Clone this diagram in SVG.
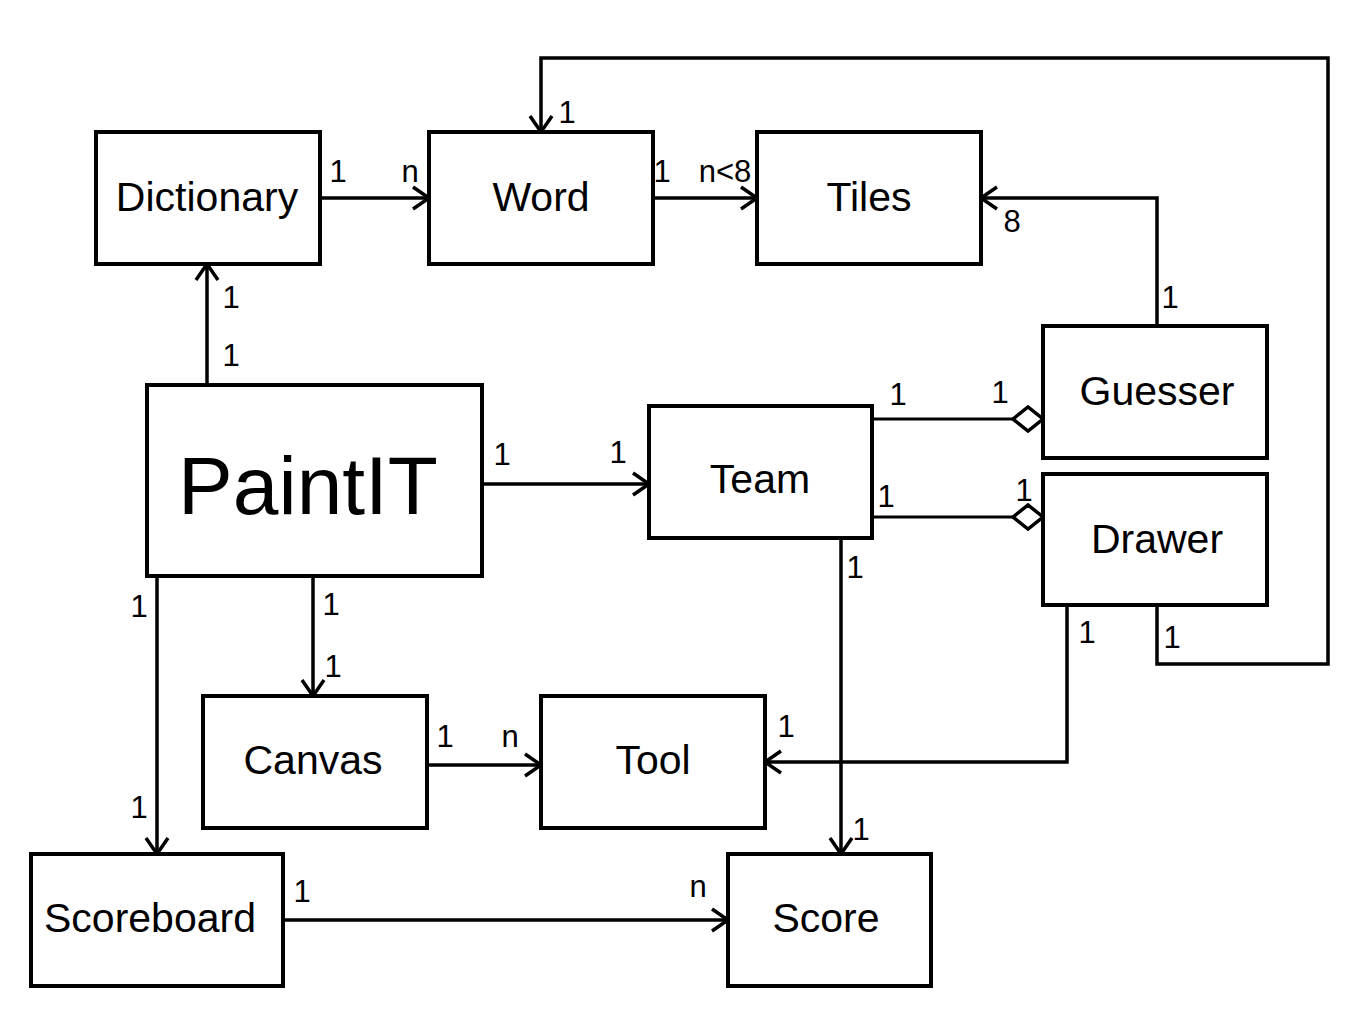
<svg xmlns="http://www.w3.org/2000/svg" width="1364" height="1023" viewBox="0 0 1364 1023">
<style>
.box{fill:#fff;stroke:#000;stroke-width:4}
.lbl{font-family:"Liberation Sans",Arial,Helvetica,sans-serif;font-size:41px;text-anchor:middle;fill:#000}
.big{font-size:82px}
.m{font-family:"Liberation Sans",Arial,Helvetica,sans-serif;font-size:31px;text-anchor:middle;fill:#000}
.c{fill:none;stroke:#000;stroke-width:3.5}
.a{fill:none;stroke:#000;stroke-width:3}
</style>
<defs>
<marker id="arr" viewBox="0 0 22 26" markerWidth="22" markerHeight="26" refX="20" refY="13" orient="auto" markerUnits="userSpaceOnUse">
<path d="M4,2 L20,13 L4,24" fill="none" stroke="#000" stroke-width="3.5"/>
</marker>
<marker id="dia" viewBox="0 0 34 28" markerWidth="34" markerHeight="28" refX="32" refY="14" orient="auto" markerUnits="userSpaceOnUse">
<path d="M2,14 L17,2 L32,14 L17,26 Z" fill="#fff" stroke="#000" stroke-width="3.5"/>
</marker>
</defs>
<rect width="1364" height="1023" fill="#fff"/>
<g id="connectors">
<path class="c" d="M320,198 H429" marker-end="url(#arr)"/>
<path class="c" d="M653,198 H757" marker-end="url(#arr)"/>
<path class="c" d="M1157,326 V198 H981" marker-end="url(#arr)"/>
<path class="c" d="M1157,604 V664 H1328 V58 H541 V132" marker-end="url(#arr)"/>
<path class="c" d="M207,385 V264" marker-end="url(#arr)"/>
<path class="c" d="M482,484 H649" marker-end="url(#arr)"/>
<path class="a" d="M872,419 H1043" marker-end="url(#dia)"/>
<path class="a" d="M872,517 H1043" marker-end="url(#dia)"/>
<path class="c" d="M313,572 V696" marker-end="url(#arr)"/>
<path class="c" d="M157,576 V854" marker-end="url(#arr)"/>
<path class="c" d="M427,765 H541" marker-end="url(#arr)"/>
<path class="c" d="M1067,604 V762 H765" marker-end="url(#arr)"/>
<path class="c" d="M841,538 V854" marker-end="url(#arr)"/>
<path class="c" d="M283,920 H728" marker-end="url(#arr)"/>
<text class="m" x="338" y="182">1</text>
<text class="m" x="410" y="182">n</text>
<text class="m" x="662" y="182">1</text>
<text class="m" x="725" y="182">n&lt;8</text>
<text class="m" x="1012" y="232">8</text>
<text class="m" x="1170" y="308">1</text>
<text class="m" x="567" y="123">1</text>
<text class="m" x="1172" y="648">1</text>
<text class="m" x="231" y="308">1</text>
<text class="m" x="231" y="366">1</text>
<text class="m" x="502" y="465">1</text>
<text class="m" x="618" y="463">1</text>
<text class="m" x="898" y="405">1</text>
<text class="m" x="1000" y="403">1</text>
<text class="m" x="886" y="507">1</text>
<text class="m" x="1024" y="501">1</text>
<text class="m" x="331" y="615">1</text>
<text class="m" x="333" y="677">1</text>
<text class="m" x="139" y="617">1</text>
<text class="m" x="139" y="818">1</text>
<text class="m" x="445" y="747">1</text>
<text class="m" x="510" y="747">n</text>
<text class="m" x="1087" y="643">1</text>
<text class="m" x="786" y="737">1</text>
<text class="m" x="855" y="578">1</text>
<text class="m" x="861" y="840">1</text>
<text class="m" x="302" y="902">1</text>
<text class="m" x="698" y="897">n</text>
</g>
<g id="dictionary"><rect class="box" x="96" y="132" width="224" height="132"/><text class="lbl" x="207" y="211">Dictionary</text></g>
<g id="word"><rect class="box" x="429" y="132" width="224" height="132"/><text class="lbl" x="541" y="211">Word</text></g>
<g id="tiles"><rect class="box" x="757" y="132" width="224" height="132"/><text class="lbl" x="869" y="211">Tiles</text></g>
<g id="guesser"><rect class="box" x="1043" y="326" width="224" height="132"/><text class="lbl" x="1157" y="405">Guesser</text></g>
<g id="drawer"><rect class="box" x="1043" y="474" width="224" height="131"/><text class="lbl" x="1157" y="553">Drawer</text></g>
<g id="team"><rect class="box" x="649" y="406" width="223" height="132"/><text class="lbl" x="760" y="493">Team</text></g>
<g id="paintit"><rect class="box" x="147" y="385" width="335" height="191"/><text class="lbl big" x="308" y="514">PaintIT</text></g>
<g id="canvas"><rect class="box" x="203" y="696" width="224" height="132"/><text class="lbl" x="313" y="774">Canvas</text></g>
<g id="tool"><rect class="box" x="541" y="696" width="224" height="132"/><text class="lbl" x="653" y="774">Tool</text></g>
<g id="scoreboard"><rect class="box" x="31" y="854" width="252" height="132"/><text class="lbl" x="150" y="932">Scoreboard</text></g>
<g id="score"><rect class="box" x="728" y="854" width="203" height="132"/><text class="lbl" x="826" y="932">Score</text></g>
</svg>
